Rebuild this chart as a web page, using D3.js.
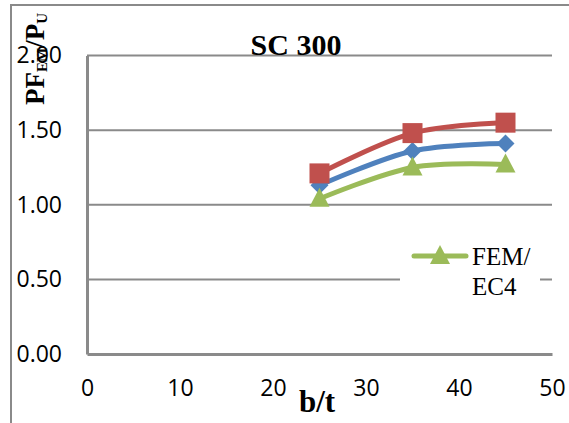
<!DOCTYPE html>
<html><head><meta charset="utf-8">
<script src="https://cdn.jsdelivr.net/npm/d3@7"></script>
<style>body{margin:0;background:#fff}svg{display:block}</style>
</head><body><svg id="c" width="569" height="423"></svg>
<script>
const bt = [25, 35, 45];
const blueVals = [1.13, 1.36, 1.41];
const redVals = [1.21, 1.48, 1.55];
const greenVals = [1.04, 1.25, 1.27];
const yTicks = [0, 0.5, 1.0, 1.5, 2.0];
const xTicks = [0, 10, 20, 30, 40, 50];
const legendLabel = ["FEM/", "EC4"];

const svg = d3.select("#c");
const x = d3.scaleLinear().domain([0, 50]).range([87, 552]);
const y = d3.scaleLinear().domain([0, 2]).range([354, 55.5]);
const grid = "#8a8a8a";

// outer frame
svg.append("rect").attr("x", 11).attr("y", 5).attr("width", 600).attr("height", 500)
  .attr("fill", "none").attr("stroke", grid).attr("stroke-width", 2);

// gridlines
svg.append("g").selectAll("line").data(yTicks.filter(d => d > 0)).join("line")
  .attr("x1", x(0)).attr("x2", x(50)).attr("y1", d => y(d)).attr("y2", d => y(d))
  .attr("stroke", grid).attr("stroke-width", 2);

// axes
const yAxis = d3.axisLeft(y).tickValues(yTicks).tickFormat(d3.format(".2f")).tickSize(0).tickPadding(25);
const gy = svg.append("g").attr("transform", `translate(${x(0)},0)`).call(yAxis);
gy.select(".domain").attr("stroke", grid).attr("stroke-width", 3);
gy.selectAll("text").attr("font-family", "'Open Sans', sans-serif").attr("font-size", 23).attr("fill", "#000");

const xAxis = d3.axisBottom(x).tickValues(xTicks).tickSize(0).tickPadding(26);
const gx = svg.append("g").attr("transform", `translate(0,${y(0)})`).call(xAxis);
gx.select(".domain").attr("stroke", grid).attr("stroke-width", 3);
gx.selectAll("text").attr("font-family", "'Open Sans', sans-serif").attr("font-size", 23).attr("fill", "#000");

// legend background (covers gridline)
svg.append("rect").attr("x", 400).attr("y", 232).attr("width", 140).attr("height", 75).attr("fill", "#fff");

const line = d3.line().x(d => x(d[0])).y(d => y(d[1])).curve(d3.curveCardinal.tension(0));
const series = [
  {vals: blueVals, color: "#4F81BD", shape: "diamond"},
  {vals: redVals, color: "#C0504D", shape: "square"},
  {vals: greenVals, color: "#9BBB59", shape: "triangle"}
];
function marker(g, shape, color, cx, cy) {
  if (shape === "diamond") {
    g.append("path").attr("d", `M${cx},${cy-9}L${cx+9},${cy}L${cx},${cy+9}L${cx-9},${cy}Z`).attr("fill", color);
  } else if (shape === "square") {
    g.append("rect").attr("x", cx-10).attr("y", cy-10).attr("width", 20).attr("height", 20).attr("fill", color);
  } else {
    g.append("path").attr("d", `M${cx},${cy-11}L${cx+10},${cy+8}L${cx-10},${cy+8}Z`).attr("fill", color);
  }
}
series.forEach(s => {
  const pts = bt.map((b, i) => [b, s.vals[i]]);
  const g = svg.append("g");
  g.append("path").attr("d", line(pts)).attr("fill", "none").attr("stroke", s.color)
    .attr("stroke-width", 5).attr("stroke-linecap", "round");
  pts.forEach(p => marker(g, s.shape, s.color, x(p[0]), y(p[1])));
});

// legend entry
const lg = svg.append("g");
lg.append("line").attr("x1", 414).attr("x2", 466).attr("y1", 256).attr("y2", 256)
  .attr("stroke", "#9BBB59").attr("stroke-width", 5).attr("stroke-linecap", "round");
marker(lg, "triangle", "#9BBB59", 440, 256);
lg.selectAll("text").data(legendLabel).join("text")
  .attr("x", 472).attr("y", (d, i) => 265 + i * 30)
  .attr("font-family", "'Liberation Serif', serif").attr("font-size", 25).text(d => d);

// title
svg.append("text").attr("x", 296).attr("y", 55).attr("text-anchor", "middle")
  .attr("font-family", "'Liberation Serif', serif").attr("font-weight", "bold").attr("font-size", 30)
  .text("SC 300");

// x axis title
svg.append("text").attr("x", 317).attr("y", 412).attr("text-anchor", "middle")
  .attr("font-family", "'Liberation Serif', serif").attr("font-weight", "bold").attr("font-size", 31)
  .text("b/t");

// y axis title
const yt = svg.append("text").attr("transform", "translate(44,105) rotate(-90)")
  .attr("font-family", "'Liberation Serif', serif").attr("font-weight", "bold").attr("font-size", 27);
yt.append("tspan").text("PF");
yt.append("tspan").attr("font-size", 15).attr("dy", 3).text("EM");
yt.append("tspan").attr("dy", -3).text("/P");
yt.append("tspan").attr("font-size", 15).attr("dy", 3).text("U");
</script></body></html>
